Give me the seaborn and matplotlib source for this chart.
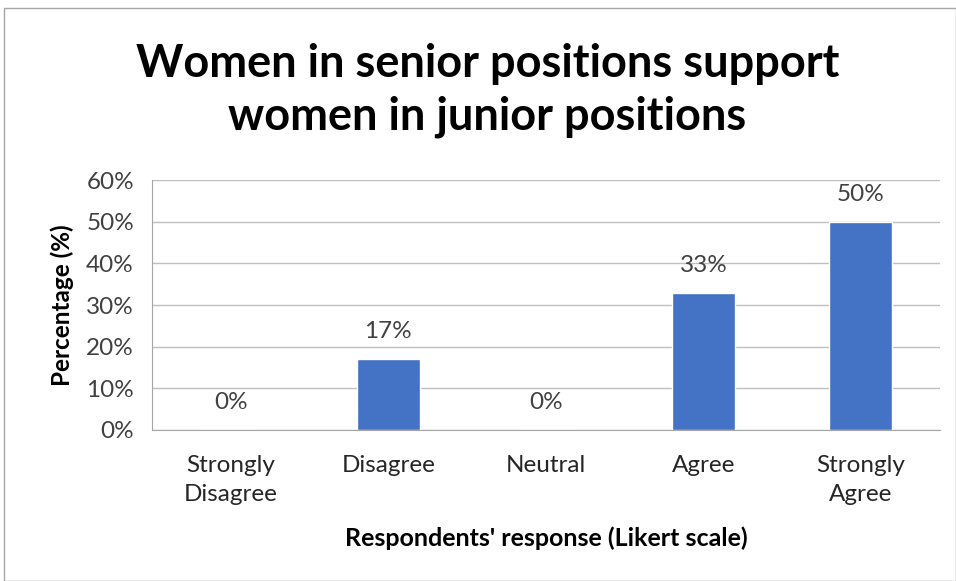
import matplotlib
matplotlib.use("Agg")
import matplotlib.pyplot as plt
import seaborn as sns
import pandas as pd
from matplotlib.patches import Rectangle

categories = ["Strongly\nDisagree", "Disagree", "Neutral", "Agree", "Strongly\nAgree"]
percentages = [0, 17, 0, 33, 50]
y_ticks = [0, 10, 20, 30, 40, 50, 60]

sns.set_style("white")
plt.rcParams["font.family"] = ["Lato", "DejaVu Sans"]

df = pd.DataFrame({"response": categories, "pct": percentages})

fig = plt.figure(figsize=(9.56, 5.81), dpi=100)
ax = fig.add_axes([0.159, 0.260, 0.824, 0.430])

sns.barplot(data=df, x="response", y="pct", color="#4472C4", width=0.4,
            saturation=1, ax=ax, zorder=3)

ax.set_ylim(0, 60)
ax.set_yticks(y_ticks)
ax.set_yticklabels([f"{t}%" for t in y_ticks], fontsize=17.5, color="#404040")
ax.tick_params(axis="x", labelsize=17.5, colors="#404040", length=0, pad=18)
ax.tick_params(axis="y", length=9, width=1, color="#A6A6A6", pad=4)
for lbl in ax.get_xticklabels():
    lbl.set_color("#262626")
    lbl.set_linespacing(1.5)
ax.yaxis.grid(True, color="#BFBFBF", linewidth=1, zorder=0)
for side in ["top", "right"]:
    ax.spines[side].set_visible(False)
ax.spines["left"].set_color("#A6A6A6")
ax.spines["bottom"].set_color("#A6A6A6")

for i, v in enumerate(percentages):
    ax.annotate(f"{v}%", (i, v), xytext=(0, 12), textcoords="offset points",
                ha="center", va="bottom", fontsize=17.5, color="#404040")

ax.set_xlabel("Respondents' response (Likert scale)", fontsize=18,
              fontweight="bold", labelpad=15, color="black")
ax.set_ylabel("Percentage (%)", fontsize=17.5, fontweight="bold", labelpad=9,
              color="black")

fig.text(0.510, 0.844, "Women in senior positions support\nwomen in junior positions",
         ha="center", va="center", fontsize=32.5, fontweight="bold",
         linespacing=1.3, color="black")

fig.patches.append(Rectangle((0.004, 0.0), 0.996, 0.986, transform=fig.transFigure,
                             fill=False, edgecolor="#A6A6A6", linewidth=1))

fig.savefig("out.png", dpi=100)
